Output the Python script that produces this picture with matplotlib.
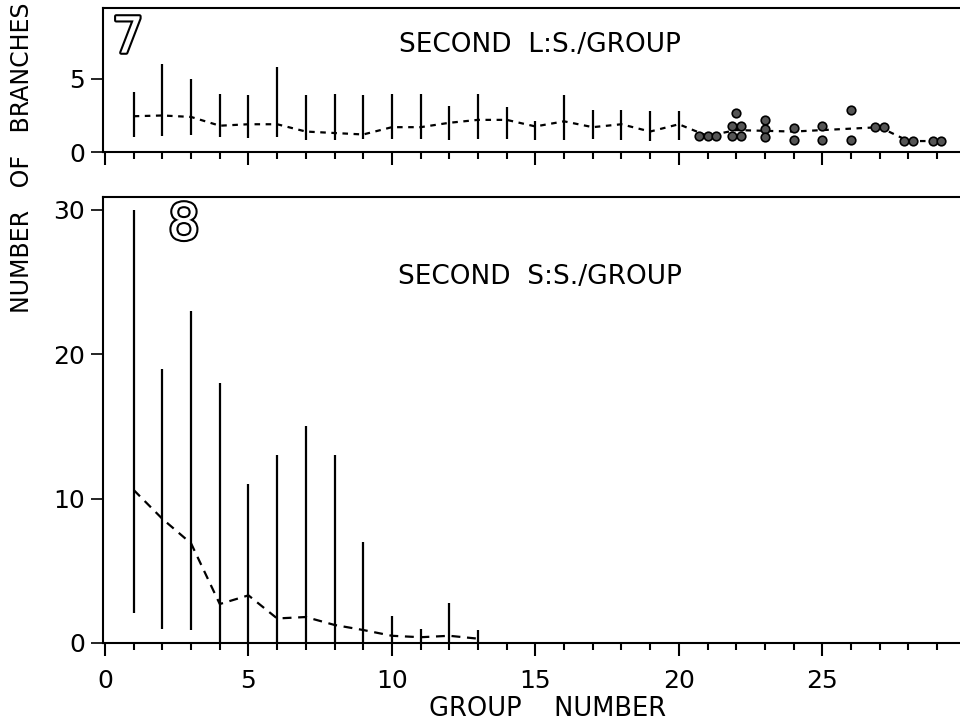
import matplotlib
matplotlib.use("Agg")
import matplotlib.pyplot as plt
import matplotlib.patheffects as pe
import numpy as np

# panel 7: second long-shoots per group (range bars for groups 1-20, points for 21-29)
ls_groups = np.arange(1, 21)
ls_low = [1.0, 1.1, 1.15, 1.0, 0.95, 1.0, 0.8, 0.8, 0.9, 0.9,
          0.9, 0.8, 0.9, 0.9, 0.8, 0.8, 0.9, 0.8, 0.75, 0.8]
ls_high = [4.1, 6.0, 5.0, 4.0, 3.9, 5.8, 3.9, 4.0, 3.9, 4.0,
           4.0, 3.15, 4.0, 3.1, 2.1, 3.9, 2.9, 2.9, 2.8, 2.8]
ls_mean_groups = np.arange(1, 30)
ls_mean = [2.45, 2.5, 2.4, 1.8, 1.9, 1.9, 1.4, 1.3, 1.2, 1.7,
           1.7, 2.0, 2.2, 2.2, 1.75, 2.1, 1.7, 1.9, 1.4, 1.9,
           1.1, 1.5, 1.45, 1.4, 1.5, 1.6, 1.7, 0.75, 0.75]
ls_point_groups = [21, 22, 23, 24, 25, 26, 27, 28, 29]
ls_points = [[1.1, 1.1, 1.1],
             [2.7, 1.8, 1.8, 1.1, 1.1],
             [2.2, 1.6, 1.0],
             [1.65, 0.8],
             [1.8, 0.8],
             [2.9, 0.8],
             [1.7, 1.7],
             [0.75, 0.75],
             [0.75, 0.75]]

# panel 8: second short-shoots per group
ss_groups = np.arange(1, 14)
ss_low = [2.1, 1.0, 0.9, 0, 0, 0, 0, 0, 0, 0, 0, 0, 0]
ss_high = [30, 19, 23, 18, 11, 13, 15, 13, 7, 1.9, 1.0, 2.8, 0.9]
ss_mean = [10.6, 8.6, 6.9, 2.7, 3.3, 1.7, 1.8, 1.25, 0.9, 0.5, 0.4, 0.5, 0.3]

plt.rcParams['font.family'] = 'DejaVu Sans'

fig = plt.figure(figsize=(9.6, 7.23), dpi=100)
W, H = 960.0, 723.0
xl = (-0.07, 29.8)

ax1 = fig.add_axes([103 / W, 1 - 152 / H, 1 - 103 / W, (152 - 8) / H])
ax2 = fig.add_axes([103 / W, 1 - 643 / H, 1 - 103 / W, (643 - 197) / H])


def style(ax, ymax, yticks, xlabels):
    ax.set_xlim(*xl)
    ax.set_ylim(0, ymax)
    ax.spines['right'].set_visible(False)
    for s in ['left', 'top', 'bottom']:
        ax.spines[s].set_linewidth(1.5)
    ax.set_xticks([0, 5, 10, 15, 20, 25])
    ax.set_xticks(np.arange(0, 30), minor=True)
    ax.set_yticks(yticks)
    ax.tick_params(axis='x', which='major', direction='out', length=9, width=1.5,
                   labelsize=18, pad=10, labelbottom=xlabels)
    ax.tick_params(axis='x', which='minor', direction='out', length=5, width=1.5)
    ax.tick_params(axis='y', direction='out', length=9, width=1.2, labelsize=18, pad=4)


style(ax1, 9.86, [0, 5], False)
style(ax2, 30.9, [0, 10, 20, 30], True)

# panel 7 marks
ax1.vlines(ls_groups, ls_low, ls_high, color='black', lw=1.6)
ax1.plot(ls_mean_groups, ls_mean, color='black', lw=1.6, ls=(0, (2.5, 2.5)))
for g, vals in zip(ls_point_groups, ls_points):
    vals = np.array(vals)
    xs = np.full(len(vals), float(g))
    for v in np.unique(vals):
        idx = np.where(vals == v)[0]
        n = len(idx)
        xs[idx] = g + (np.arange(n) - (n - 1) / 2) * 0.3
    ax1.scatter(xs, vals, s=38, color='#555555', edgecolor='black', lw=1.2, zorder=3)

# panel 8 marks
ax2.vlines(ss_groups, ss_low, ss_high, color='black', lw=1.6)
ax2.plot(ss_groups, ss_mean, color='black', lw=1.6, ls=(0, (4, 3)))

outline = [pe.withStroke(linewidth=3, foreground='black')]
ax1.text(0.8, 9.4, '7', fontsize=36, color='white', ha='center', va='top',
         path_effects=outline)
ax2.text(2.75, 30.6, '8', fontsize=36, color='white', ha='center', va='top',
         path_effects=outline)

fig.text(540 / W, 1 - 45 / H, 'SECOND  L:S./GROUP', fontsize=19, ha='center', va='center')
fig.text(540 / W, 1 - 277 / H, 'SECOND  S:S./GROUP', fontsize=19, ha='center', va='center')

fig.text(548 / W, 1 - 709 / H, 'GROUP    NUMBER', fontsize=18.5, ha='center', va='center')
fig.text(22 / W, 1 - 158 / H, 'NUMBER   OF   BRANCHES', fontsize=17, ha='center',
         va='center', rotation=90)

plt.savefig("out.png", dpi=100)
